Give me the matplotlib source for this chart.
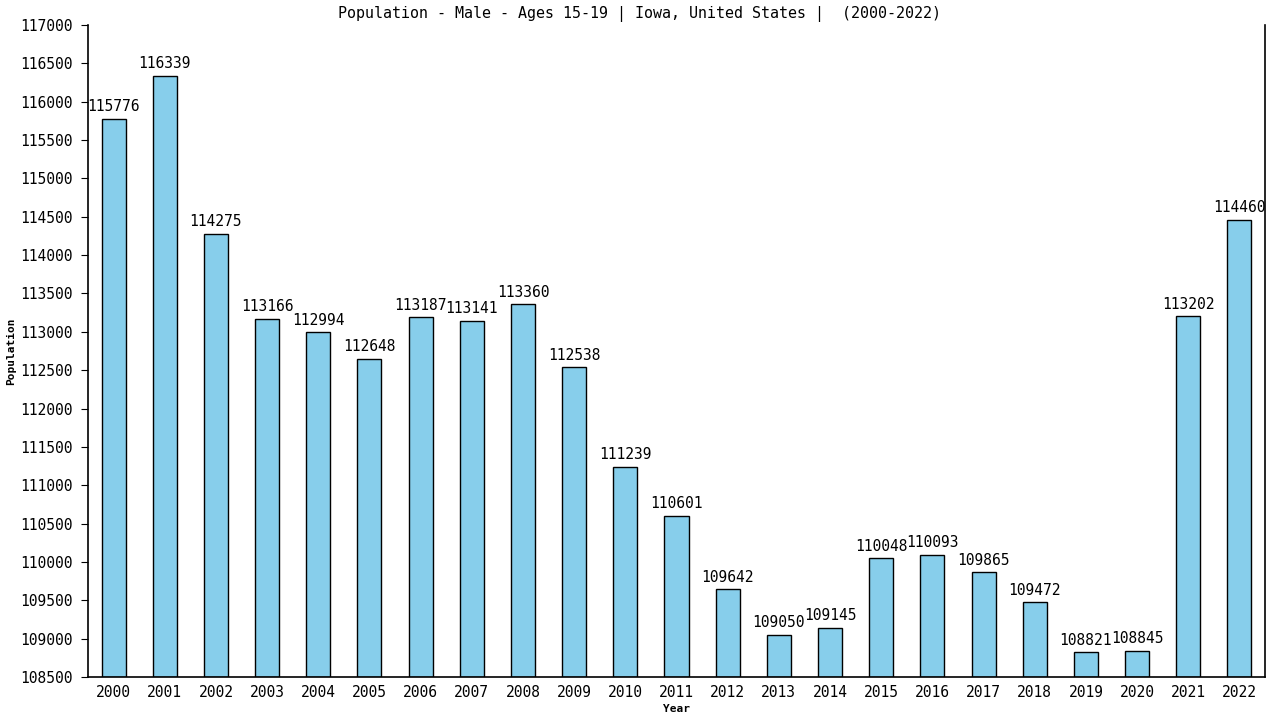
import matplotlib
matplotlib.use("Agg")
import matplotlib.pyplot as plt

years = [str(y) for y in range(2000, 2023)]
population = [115776, 116339, 114275, 113166, 112994, 112648, 113187, 113141,
              113360, 112538, 111239, 110601, 109642, 109050, 109145, 110048,
              110093, 109865, 109472, 108821, 108845, 113202, 114460]
yticks = list(range(108500, 117001, 500))

plt.rcParams["font.family"] = ["DejaVu Sans Mono"]

fig = plt.figure(figsize=(12.8, 7.2), dpi=100)
ax = fig.add_axes([88 / 1280, 43 / 720, 1177 / 1280, 652 / 720])

x = list(range(len(years)))
ax.bar(x, [p - yticks[0] for p in population], bottom=yticks[0], width=0.47,
       color="#87CEEB", edgecolor="black", linewidth=1.0)

for xi, p in zip(x, population):
    ax.text(xi, p + 60, str(p), ha="center", va="bottom", fontsize=10.5)

ax.set_xlim(-0.5, len(years) - 0.5)
ax.set_ylim(yticks[0], yticks[-1])
ax.set_yticks(yticks)
ax.set_yticklabels([str(t) for t in yticks], fontsize=10.5)
ax.set_xticks(x)
ax.set_xticklabels(years, fontsize=10.5)
ax.tick_params(axis="x", length=0, pad=6)
ax.tick_params(axis="y", length=5, direction="out", pad=6)
ax.spines["top"].set_visible(False)
for s in ("left", "right", "bottom"):
    ax.spines[s].set_linewidth(1.2)

ax.set_xlabel("Year", fontsize=8, fontweight="bold", labelpad=3)
ax.set_ylabel("Population", fontsize=8, fontweight="bold")
ax.yaxis.set_label_coords(-0.061, 0.5)
fig.text(0.5, 0.981, "Population - Male - Ages 15-19 | Iowa, United States |  (2000-2022)",
         ha="center", va="center", fontsize=10.8)

fig.savefig("out.png", dpi=100)
